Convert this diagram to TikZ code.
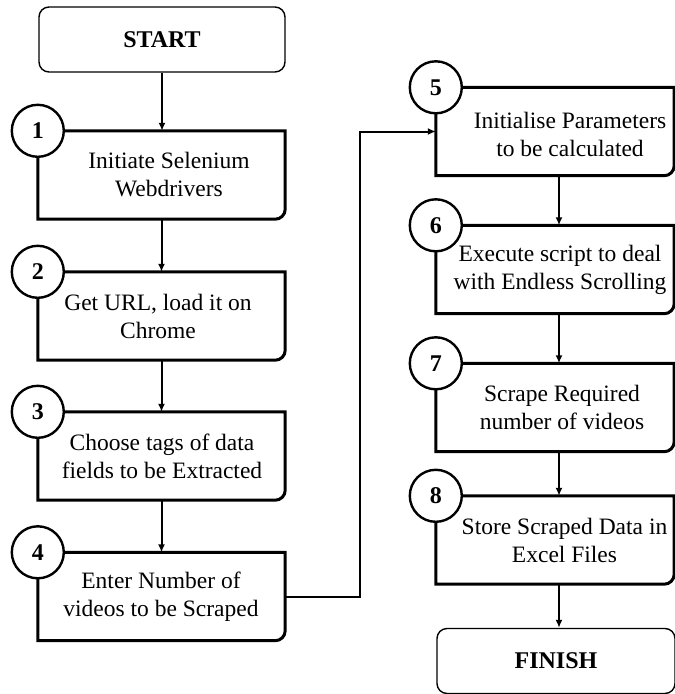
\documentclass[tikz,border=0pt]{standalone}
\usepackage{fontspec}
\setmainfont{Liberation Serif}
\usetikzlibrary{arrows.meta}

% outline of a step box: square corners except the rounded bottom-right one
\newcommand\stepframe[1]{%
  \draw[outline] (#1.north west) -- (#1.north east)
    -- ([yshift=10pt]#1.south east)
    .. controls ([yshift=4.5pt]#1.south east) and ([xshift=-4.5pt]#1.south east) ..
       ([xshift=-10pt]#1.south east)
    -- (#1.south west) -- cycle;}

\begin{document}
\begin{tikzpicture}[x=1pt,y=-1pt,
  stepbox/.style={minimum width=247pt,minimum height=88pt,inner sep=0pt,draw=none},
  rstepbox/.style={stepbox,minimum width=238pt},
  steptext/.style={align=center,inner sep=0pt,font=\fontsize{23.5}{28}\selectfont},
  numcirc/.style={circle,draw,line width=2.4pt,fill=white,minimum size=52pt,
    inner sep=0pt,font=\fontsize{24}{24}\selectfont\bfseries},
  terminal/.style={draw,line width=1.4pt,rounded corners=10pt,minimum height=65pt,
    inner sep=0pt,font=\fontsize{24}{24}\selectfont\bfseries},
  flow/.style={line width=2pt,-{Latex[length=8pt,width=7pt]}},
  outline/.style={line width=3pt,line join=miter}
]
\useasboundingbox (0,0) rectangle (675,694);

% terminals
\node[terminal,minimum width=246pt] (start) at (162,39.5) {START};
\node[terminal,minimum width=238pt] (finish) at (556,661) {FINISH};

% left column
\node[stepbox] (b1) at (161.5,175) {};
\node[stepbox] (b2) at (161.5,316) {};
\node[stepbox] (b3) at (161.5,456) {};
\node[stepbox] (b4) at (161.5,596.5) {};
% right column
\node[rstepbox] (b5) at (555,131.5) {};
\node[rstepbox] (b6) at (555,269.5) {};
\node[rstepbox] (b7) at (555,407.5) {};
\node[rstepbox] (b8) at (555,540) {};

\foreach \b in {b1,b2,b3,b4,b5,b6,b7,b8}{\stepframe{\b}}

% step texts
\node[steptext] (t1) at ([xshift=7.5pt]b1.center) {Initiate Selenium\\Webdrivers};
\node[steptext] (t2) at ([xshift=-3.5pt]b2.center) {Get URL, load it on\\Chrome};
\node[steptext] (t3) at ([xshift=0.5pt]b3.center) {Choose tags of data\\fields to be Extracted};
\node[steptext] (t4) at ([xshift=-0.5pt]b4.center) {Enter Number of\\videos to be Scraped};
\node[steptext] (t5) at ([xshift=15pt,yshift=-3pt]b5.center) {Initialise Parameters\\to be calculated};
\node[steptext] (t6) at ([xshift=5pt]b6.center) {Execute script to deal\\with Endless Scrolling};
\node[steptext] (t7) at ([xshift=7pt]b7.center) {Scrape Required\\number of videos};
\node[steptext] (t8) at ([xshift=9.5pt]b8.center) {Store Scraped Data in\\Excel Files};

% connectors
\draw[flow] (start.south) -- (start.south |- b1.north);
\draw[flow] (b1.south) -- (b2.north);
\draw[flow] (b2.south) -- (b3.north);
\draw[flow] (b3.south) -- (b4.north);
\draw[flow] (b4.east) -- ++(75,0) |- (b5.west);
\draw[flow] ([xshift=4pt]b5.south) -- ([xshift=4pt]b6.north);
\draw[flow] ([xshift=4pt]b6.south) -- ([xshift=4pt]b7.north);
\draw[flow] ([xshift=4pt]b7.south) -- ([xshift=4pt]b8.north);
\draw[flow] ([xshift=4pt]b8.south) -- ([xshift=4pt]b8.south |- finish.north);

% step numbers on the top-left corners
\node[numcirc] (n1) at (b1.north west) {1};
\node[numcirc] (n2) at (b2.north west) {2};
\node[numcirc] (n3) at (b3.north west) {3};
\node[numcirc] (n4) at (b4.north west) {4};
\node[numcirc] (n5) at (b5.north west) {5};
\node[numcirc] (n6) at (b6.north west) {6};
\node[numcirc] (n7) at (b7.north west) {7};
\node[numcirc] (n8) at (b8.north west) {8};
\end{tikzpicture}
\end{document}
